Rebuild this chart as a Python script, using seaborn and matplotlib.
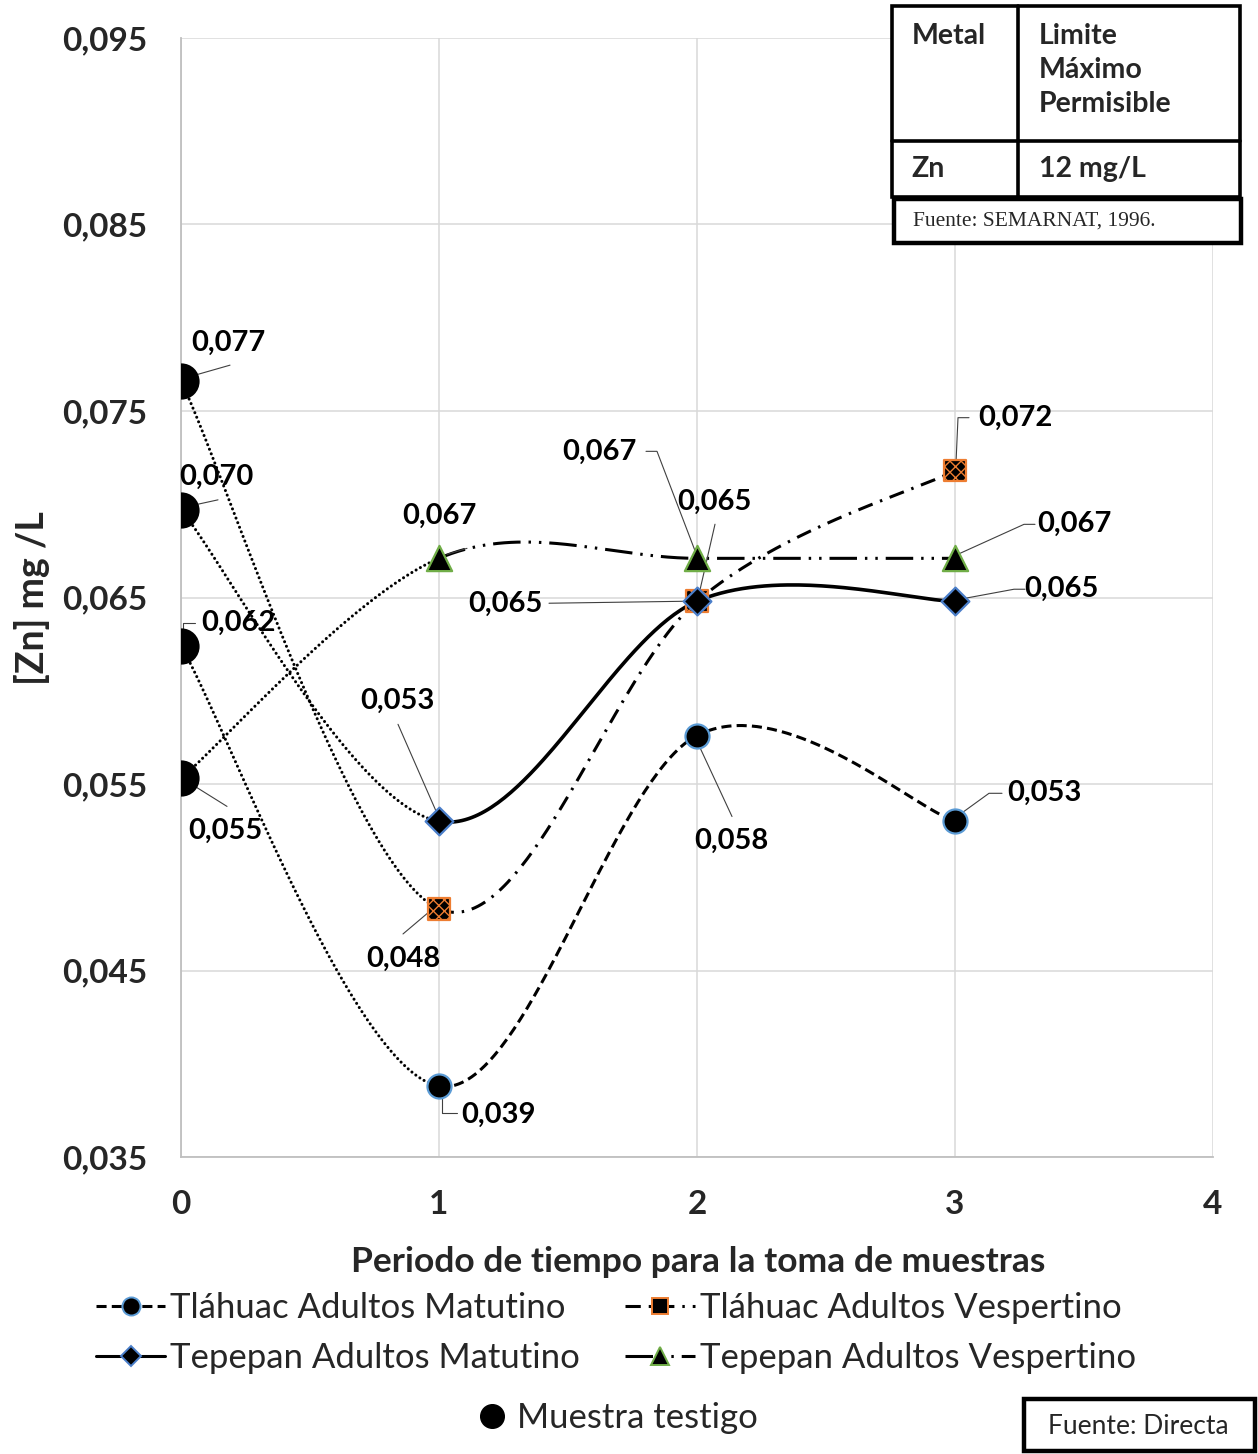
import numpy as np
import pandas as pd
import matplotlib
matplotlib.use("Agg")
import matplotlib.pyplot as plt
import seaborn as sns
from matplotlib.lines import Line2D
from matplotlib.patches import Rectangle
from matplotlib.ticker import FuncFormatter
from matplotlib.transforms import IdentityTransform

# ---- datos -------------------------------------------------------------
periodos = [0, 1, 2, 3]
testigo = [0.0766, 0.0697, 0.0624, 0.0553]          # muestra testigo (periodo 0)
tlahuac_mat = [0.0624, 0.0388, 0.0576, 0.0530]
tlahuac_vesp = [0.0766, 0.0483, 0.0648, 0.0718]
tepepan_mat = [0.0697, 0.0530, 0.0648, 0.0648]
tepepan_vesp = [0.0553, 0.0671, 0.0671, 0.0671]
nombres = ["Tláhuac Adultos Matutino", "Tláhuac Adultos Vespertino",
           "Tepepan Adultos Matutino", "Tepepan Adultos Vespertino"]
nombre_testigo = "Muestra testigo"
y_ticks = [0.035, 0.045, 0.055, 0.065, 0.075, 0.085, 0.095]
x_ticks = [0, 1, 2, 3, 4]

W, H, DPI = 1258, 1454, 100

sns.set_theme(style="white")
plt.rcParams["font.family"] = ["Lato", "DejaVu Sans"]

fig = plt.figure(figsize=(W / DPI, H / DPI), dpi=DPI)
ax = fig.add_axes([181 / W, 1 - 1157 / H, (1213 - 181) / W, (1157 - 38) / H])
ax.set_xlim(0, 4)
ax.set_ylim(0.035, 0.095)


def suavizar(xs, ys, n=80):
    """Curva suave tipo Catmull-Rom (segmentos de Bezier cubicos)."""
    P = np.column_stack([xs, ys]).astype(float)
    ext = np.vstack([P[0], P, P[-1]])
    t = np.linspace(0, 1, n)[:, None]
    segs = []
    for i in range(len(P) - 1):
        p0, p1, p2, p3 = ext[i], ext[i + 1], ext[i + 2], ext[i + 3]
        c1 = p1 + (p2 - p0) / 6
        c2 = p2 - (p3 - p1) / 6
        B = ((1 - t) ** 3) * p1 + 3 * ((1 - t) ** 2) * t * c1 \
            + 3 * (1 - t) * (t ** 2) * c2 + (t ** 3) * p2
        segs.append(B)
    return segs


LW = 2.2
punteado = (0, (0.01, 1.6))
estilos = {
    nombres[0]: dict(ls=(0, (3.3, 1.7)), marker="o", ms=300, ec="#5B9BD5", hatch=None),
    nombres[1]: dict(ls=(0, (5, 2.6, 0.8, 2.6)), marker="s", ms=240, ec="#ED7D31", hatch="xxx"),
    nombres[2]: dict(ls="-", marker="D", ms=200, ec="#4A7EC9", hatch=None),
    nombres[3]: dict(ls=(0, (9, 2.6, 0.8, 2.6, 0.8, 2.6)), marker="^", ms=330, ec="#70AD47", hatch=None),
}
series = dict(zip(nombres, [tlahuac_mat, tlahuac_vesp, tepepan_mat, tepepan_vesp]))

# curvas: primer tramo punteado (desde la muestra testigo), el resto con su estilo
for nom, vals in series.items():
    segs = suavizar(periodos, vals)
    ax.plot(segs[0][:, 0], segs[0][:, 1], color="black", lw=LW, ls=punteado,
            dash_capstyle="round", zorder=3)
    resto = np.vstack(segs[1:])
    ax.plot(resto[:, 0], resto[:, 1], color="black",
            lw=LW + 0.4 if estilos[nom]["ls"] == "-" else LW,
            ls=estilos[nom]["ls"], zorder=3)

# marcadores
df_testigo = pd.DataFrame({"periodo": [0] * len(testigo), "zn": testigo})
sns.scatterplot(data=df_testigo, x="periodo", y="zn", ax=ax, color="black", s=680,
                marker="o", edgecolor="black", linewidth=0, zorder=5, legend=False)
for nom, vals in series.items():
    st = estilos[nom]
    df = pd.DataFrame({"periodo": periodos[1:], "zn": vals[1:]})
    kw = dict(hatch=st["hatch"]) if st["hatch"] else {}
    sns.scatterplot(data=df, x="periodo", y="zn", ax=ax, color="black", s=st["ms"],
                    marker=st["marker"], edgecolor=st["ec"], linewidth=1.6, zorder=6,
                    legend=False, **kw)

# ejes y rejilla
fmt = FuncFormatter(lambda v, p: f"{v:.3f}".replace(".", ","))
ax.set_yticks(y_ticks)
ax.yaxis.set_major_formatter(fmt)
ax.set_xticks(x_ticks)
ax.grid(True, color="#D9D9D9", lw=1.1, zorder=0)
for s in ["top", "right"]:
    ax.spines[s].set_visible(False)
for s in ["left", "bottom"]:
    ax.spines[s].set_color("#BFBFBF")
    ax.spines[s].set_linewidth(1.3)
ax.tick_params(axis="y", labelsize=24, pad=24, length=0)
ax.tick_params(axis="x", labelsize=24, pad=24, length=0)
for lab in ax.get_xticklabels() + ax.get_yticklabels():
    lab.set_fontweight("bold")
ax.set_xlabel("Periodo de tiempo para la toma de muestras", fontsize=25.5,
              fontweight="bold")
ax.set_ylabel("[Zn] mg /L", fontsize=27, fontweight="bold")
ax.xaxis.set_label_coords((698 - 181) / (1213 - 181), -(1246 - 1157) / (1157 - 38))
ax.yaxis.set_label_coords(-(181 - 50) / (1213 - 181), (1157 - 598) / (1157 - 38))

# etiquetas de datos con lineas guia (desplazamientos en pixeles, y hacia abajo)
etiquetas = [
    (0, testigo[0], (47, -38), [(14, -6), (49, -16)]),
    (0, testigo[1], (35, -33), [(14, -5), (37, -10)]),
    (0, testigo[2], (57, -23), [(2, -17), (2, -23), (14, -23)]),
    (0, testigo[3], (44, 52), [(14, 8), (46, 28)]),
    (1, tepepan_vesp[1], (0, -42), [(8, -4), (28, -10)]),
    (1, tepepan_mat[1], (-42, -120), [(-2, -8), (-41, -97)]),
    (1, tlahuac_vesp[1], (-36, 50), [(-10, 3), (-36, 25)]),
    (1, tlahuac_mat[1], (60, 29), [(3, 12), (3, 27), (18, 27)]),
    (2, tepepan_vesp[2], (-98, -106), [(-1, -5), (-40, -107), (-51, -107)]),
    (2, tlahuac_vesp[2], (17, -99), [(2, -7), (18, -77)]),
    (2, tepepan_mat[2], (-192, 3), [(-10, 0), (-148, 2)]),
    (2, tlahuac_mat[2], (34, 105), [(2, 10), (35, 81)]),
    (3, tlahuac_vesp[3], (60, -53), [(1, -8), (3, -53), (14, -53)]),
    (3, tepepan_vesp[3], (119, -34), [(5, -5), (69, -34), (80, -34)]),
    (3, tepepan_mat[3], (106, -12), [(5, -2), (59, -12), (70, -12)]),
    (3, tlahuac_mat[3], (89, -28), [(5, -7), (34, -28), (47, -28)]),
]
for x, v, (dx, dy), guia in etiquetas:
    px, py = ax.transData.transform((x, v))
    gx = [px + g[0] for g in guia]
    gy = [py - g[1] for g in guia]
    ax.plot(gx, gy, color="#404040", lw=0.8, transform=IdentityTransform(), zorder=4,
            clip_on=False)
    ax.annotate(f"{v:.3f}".replace(".", ","), xy=(x, v), xytext=(dx, -dy),
                textcoords="offset pixels", ha="center", va="center",
                fontsize=21, fontweight="bold", color="black", zorder=7,
                annotation_clip=False)


# leyenda
def handle(nom):
    st = estilos[nom]
    return Line2D([0], [0], color="black", lw=LW, ls=st["ls"], marker=st["marker"],
                  markersize=np.sqrt(st["ms"]) * 0.75, markerfacecolor="black",
                  markeredgecolor=st["ec"], markeredgewidth=1.4)


orden = [nombres[0], nombres[2], nombres[1], nombres[3]]
fig.legend([handle(n) for n in orden], orden, ncol=2, loc="center",
           bbox_to_anchor=(616 / W, 1 - 1333 / H), frameon=False, fontsize=25,
           handlelength=2.0, handletextpad=0.15, columnspacing=1.3,
           labelspacing=0.5)
fig.legend([Line2D([0], [0], ls="", marker="o", color="black", markersize=17)],
           [nombre_testigo], loc="center", bbox_to_anchor=(618 / W, 1 - 1418 / H),
           frameon=False, fontsize=25, handlelength=0.8, handletextpad=0.3)


# tabla de limite maximo permisible
def fx(x):
    return x / W


def fy(y):
    return 1 - y / H


tabla_lw = 2.6
fig.add_artist(Rectangle((fx(892), fy(197)), fx(1240) - fx(892), fy(6) - fy(197),
                         transform=fig.transFigure, fill=True, facecolor="white",
                         edgecolor="black", lw=tabla_lw, zorder=10))
fig.add_artist(Line2D([fx(1018), fx(1018)], [fy(6), fy(197)], color="black",
                      lw=tabla_lw, transform=fig.transFigure, zorder=11))
fig.add_artist(Line2D([fx(892), fx(1240)], [fy(141), fy(141)], color="black",
                      lw=tabla_lw, transform=fig.transFigure, zorder=11))
fig.add_artist(Rectangle((fx(894), fy(243)), fx(1241) - fx(894), fy(199) - fy(243),
                         transform=fig.transFigure, fill=True, facecolor="white",
                         edgecolor="black", lw=3.2, zorder=10))
kw_t = dict(fontsize=20.5, fontweight="bold", va="center", ha="left", zorder=12)
fig.text(fx(912), fy(36), "Metal", **kw_t)
fig.text(fx(1039), fy(70), "Limite\nMáximo\nPermisible", linespacing=1.4, **kw_t)
fig.text(fx(911), fy(169), "Zn", **kw_t)
fig.text(fx(1039), fy(169), "12 mg/L", **kw_t)
fig.text(fx(913), fy(221), "Fuente: SEMARNAT, 1996.", fontsize=15.5,
         family="Liberation Serif", va="center", ha="left", zorder=12)

# fuente
fig.add_artist(Rectangle((fx(1024), fy(1451)), fx(1255) - fx(1024), fy(1399) - fy(1451),
                         transform=fig.transFigure, fill=True, facecolor="white",
                         edgecolor="black", lw=3.2, zorder=10))
fig.text(fx(1138), fy(1426), "Fuente: Directa", fontsize=19, ha="center", va="center",
         zorder=12)

fig.savefig("out.png", dpi=DPI)
